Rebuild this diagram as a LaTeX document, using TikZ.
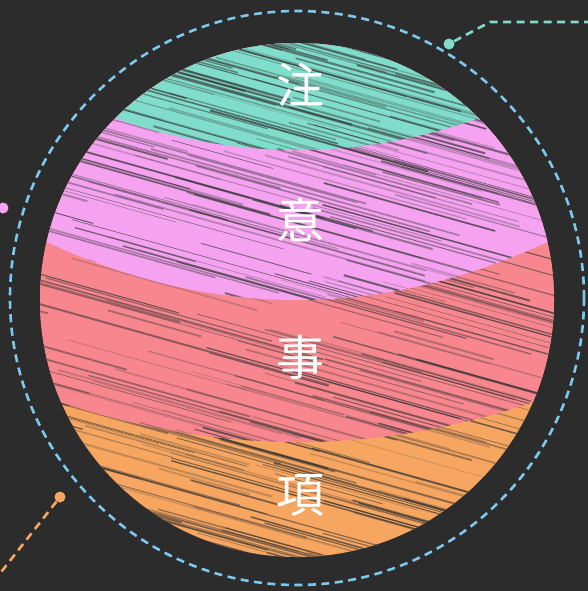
\documentclass[tikz,border=0pt]{standalone}
\usepackage{fontspec}
\newfontfamily\cjk{Noto Sans CJK JP}
\usepackage{tikz}

\definecolor{board}{HTML}{2C2C2C}
\definecolor{ringblue}{HTML}{7CC8EE}
\definecolor{mint}{HTML}{80DDCB}
\definecolor{lilac}{HTML}{F5A3F0}
\definecolor{salmon}{HTML}{F7868E}
\definecolor{apricot}{HTML}{F6A660}

\tikzset{
  label char/.style={text=white, font=\cjk\fontsize{48}{48}\selectfont, inner sep=0pt},
  dot/.style={circle, inner sep=0pt, minimum size=11pt},
  leader/.style={line width=2.6pt, dash pattern=on 8pt off 5.5pt},
}

% diagonal chalk streaks over a band
\newcommand\chalkstreaks[3]{%
  \pgfmathsetseed{#1}
  \foreach \k in {1,...,150}{
    \pgfmathsetmacro\sx{-60+rnd*480}
    \pgfmathsetmacro\sy{#2-90+rnd*(#3-#2+90)}
    \pgfmathsetmacro\sl{80+rnd*320}
    \pgfmathsetmacro\so{0.2+rnd*0.55}
    \pgfmathsetmacro\sw{0.5+rnd*1.6}
    \draw[black!80, opacity=\so, line width=\sw pt] (\sx,\sy) -- ++(\sl,0.28*\sl);
  }}

\begin{document}
\begin{tikzpicture}[x=1pt, y=-1pt]
    \useasboundingbox (0,0) rectangle (588,591);
    % Board
    \fill[board] (0,0) rectangle (588,591);

    % Bands of the ball
    \begin{scope}
        \clip (297,300) circle (257);
        \fill[apricot] (0,0) rectangle (588,591);
        \chalkstreaks{11}{390}{570}
        \begin{scope}
            \clip (32,392) .. controls (208.7,458.7) and (385.3,458.7) .. (562,392) -- (562,0) -- (32,0) -- cycle;
            \fill[salmon] (0,0) rectangle (588,591);
            \chalkstreaks{23}{230}{450}
        \end{scope}
        \begin{scope}
            \clip (32,235) .. controls (208.7,321.7) and (385.3,321.7) .. (562,235) -- (562,0) -- (32,0) -- cycle;
            \fill[lilac] (0,0) rectangle (588,591);
            \chalkstreaks{37}{100}{310}
        \end{scope}
        \begin{scope}
            \clip (37,85) .. controls (210.3,171.7) and (383.7,171.7) .. (557,85) -- (557,0) -- (37,0) -- cycle;
            \fill[mint] (0,0) rectangle (588,591);
            \chalkstreaks{41}{30}{160}
        \end{scope}
    \end{scope}

    % Dashed ring
    \draw[ringblue, leader] (297,298) circle (287);

    % Labels
    \node[label char] (zhu) at (300,85) {注};
    \node[label char] (yi) at (300,220) {意};
    \node[label char] (shi) at (300,357) {事};
    \node[label char] (xiang) at (300,495) {項};

    % Leaders
    \node[dot, fill=mint] (mintdot) at (449,44) {};
    \coordinate (mintbend) at (490,22);
    \coordinate (mintend) at (590,22);
    \draw[mint, leader] (mintdot) -- (mintbend) -- (mintend);

    \node[dot, fill=lilac] (lilacdot) at (3,208) {};

    \node[dot, fill=apricot] (apricotdot) at (60,497) {};
    \coordinate (apricotend) at (-2,576);
    \draw[apricot, leader] (apricotdot) -- (apricotend);
\end{tikzpicture}
\end{document}
